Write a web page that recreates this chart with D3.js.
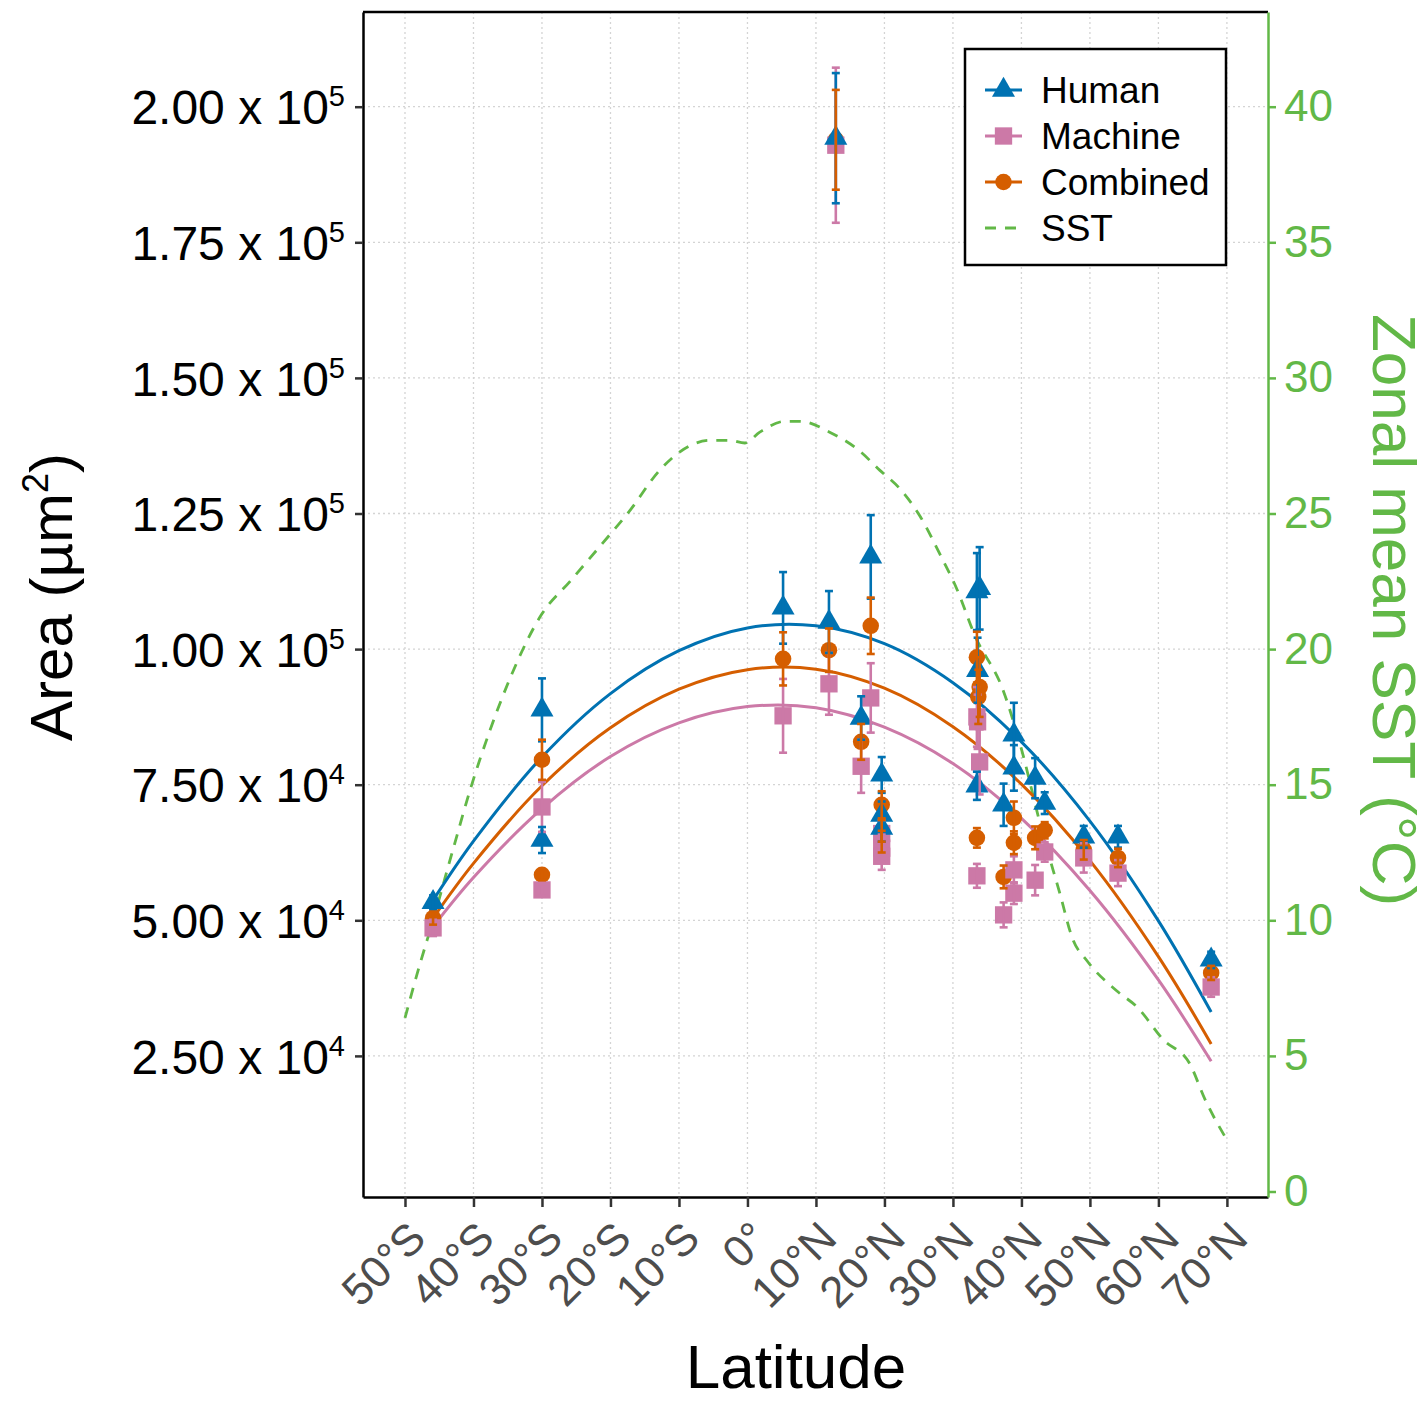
<!DOCTYPE html>
<html>
<head>
<meta charset="utf-8">
<script src="https://cdn.jsdelivr.net/npm/d3@7"></script>
<style>
body{margin:0;background:#fff;}
text{font-family:"Liberation Sans",Arial,Helvetica,sans-serif;}
</style>
</head>
<body>
<svg id="chart" width="1425" height="1401"></svg>
<script>
// rows are [latitude, mean area (x1000 um2), error (x1000 um2)]
var human = [
	[-45.9, 53.3, 1.3], [-30.0, 88.8, 5.8], [-30.0, 64.8, 2.4], [5.2, 107.6, 6.6],
	[11.9, 105.0, 5.7], [12.9, 194.2, 12.0], [16.6, 87.3, 4.0], [18.0, 117.0, 7.7],
	[19.6, 76.8, 3.3], [19.6, 69.4, 2.5], [19.6, 67.0, 2.5], [33.5, 110.6, 7.1],
	[33.9, 111.2, 7.6], [33.6, 96.1, 6.0], [33.5, 74.8, 2.6], [37.4, 71.3, 3.9],
	[38.9, 84.2, 5.9], [38.9, 78.1, 4.2], [42.0, 76.2, 3.7], [43.4, 71.6, 2.0],
	[49.1, 65.4, 2.0], [54.1, 65.4, 2.0], [67.7, 42.7, 1.5]
];
var machine = [
	[-45.9, 48.6, 1.5], [-30.0, 70.9, 4.6], [-30.0, 55.6, 1.0], [5.2, 87.7, 6.8],
	[11.9, 93.6, 5.7], [12.9, 192.9, 14.3], [16.6, 78.4, 4.9], [18.0, 91.0, 6.4],
	[19.6, 66.0, 2.5], [19.6, 63.3, 2.5], [19.6, 61.8, 2.5], [33.5, 87.5, 5.5],
	[33.9, 79.2, 6.0], [33.6, 86.6, 5.0], [33.5, 58.2, 2.2], [37.4, 51.0, 2.3],
	[38.9, 59.3, 2.5], [38.9, 55.0, 2.0], [42.0, 57.4, 2.8], [43.4, 62.6, 1.8],
	[49.1, 61.5, 2.7], [54.1, 58.7, 2.4], [67.7, 37.7, 1.8]
];
var combined = [
	[-45.9, 50.4, 1.2], [-30.0, 79.6, 3.7], [-30.0, 58.4, 1.0], [5.2, 98.2, 4.9],
	[11.9, 99.8, 4.0], [12.9, 193.9, 9.2], [16.6, 82.9, 3.3], [18.0, 104.3, 5.2],
	[19.6, 71.3, 2.5], [19.6, 66.5, 2.0], [19.6, 64.5, 2.0], [33.5, 98.5, 4.7],
	[33.9, 93.0, 5.5], [33.7, 91.2, 5.0], [33.5, 65.2, 1.8], [37.4, 58.0, 2.1],
	[38.9, 68.9, 3.0], [38.9, 64.3, 2.1], [42.0, 65.2, 2.1], [43.4, 66.6, 1.5],
	[49.1, 63.0, 1.8], [54.1, 61.5, 1.7], [67.7, 40.3, 1.3]
];

// fitted trend lines, read at these latitudes
var fitLat      = [-45.8, -40, -30, -20, -10, 0, 10, 20, 30, 40, 50, 60, 67.7];
var humanFit    = [53.9, 64.6, 80.1, 91.8, 99.7, 103.9, 104.3, 101.0, 93.8, 82.9, 68.3, 49.9, 33.1];
var combinedFit = [50.6, 60.5, 74.8, 85.5, 92.6, 96.2, 96.3, 92.8, 85.7, 75.1, 61.0, 43.3, 27.2];
var machineFit  = [49.0, 57.9, 70.6, 80.2, 86.4, 89.4, 89.2, 85.6, 78.9, 68.8, 55.5, 39.0, 24.0];

// zonal mean SST (deg C)
var sstLat = [-50, -47.8, -45.9, -43.0, -40.5, -37.6, -34.7, -30.0, -25.9, -21.5, -17.2, -12.8, -8.4,
	-5.5, -2.6, -0.4, 1.8, 5.5, 7.7, 12.0, 16.4, 19.3, 22.3, 25.2, 28.1, 30.6, 33.2, 37.3, 39.8,
	43.0, 45.6, 47.5, 49.6, 53.9, 56.9, 60.7, 64.6, 66.8, 70.0];
var sstVal = [6.4, 8.4, 10.0, 12.6, 14.8, 17.0, 18.9, 21.3, 22.5, 23.8, 25.1, 26.6, 27.5,
	27.7, 27.7, 27.6, 28.0, 28.4, 28.4, 28.0, 27.3, 26.6, 25.9, 24.9, 23.5, 22.2, 20.5, 18.5, 16.5,
	13.3, 11.0, 9.3, 8.5, 7.4, 6.8, 5.6, 4.7, 3.4, 1.9];

var latTicks = [-50, -40, -30, -20, -10, 0, 10, 20, 30, 40, 50, 60, 70];
var areaTicks = [25, 50, 75, 100, 125, 150, 175, 200];
var sstTicks = [0, 5, 10, 15, 20, 25, 30, 35, 40];
var seriesNames = ["Human", "Machine", "Combined", "SST"];

var cHuman = "#0072B2", cMachine = "#CC79A7", cCombined = "#D55E00", cSST = "#62B847";
var triSize = 230, sqSize = 300, cirSize = 215;

var pL = 363, pR = 1268, pT = 12, pB = 1197;
var svg = d3.select("#chart");

var x = d3.scaleLinear().domain([-56.13, 76.0]).range([pL, pR]);
var y = d3.scaleLinear().domain([-1.014, 217.46]).range([pB, pT]);
var ySST = d3.scaleLinear().domain([-1.014 / 5, 217.46 / 5]).range([pB, pT]);

// grid
var grid = svg.append("g");
grid.selectAll(".vg").data(latTicks).enter().append("line")
	.attr("x1", d => x(d)).attr("x2", d => x(d))
	.attr("y1", pT).attr("y2", pB)
	.attr("stroke", "#d4d4d4").attr("stroke-width", 1.3).attr("stroke-dasharray", "2,3");
grid.selectAll(".hg").data(areaTicks).enter().append("line")
	.attr("x1", pL).attr("x2", pR)
	.attr("y1", d => y(d)).attr("y2", d => y(d))
	.attr("stroke", "#d4d4d4").attr("stroke-width", 1.3).attr("stroke-dasharray", "2,3");

// SST
var sstLine = d3.line()
	.x((d, i) => x(sstLat[i]))
	.y(d => ySST(d))
	.curve(d3.curveMonotoneX);
svg.append("path").attr("d", sstLine(sstVal))
	.attr("fill", "none").attr("stroke", cSST)
	.attr("stroke-width", 2.8).attr("stroke-dasharray", "11,9");

// fitted curves
var fitLine = d3.line()
	.x((d, i) => x(fitLat[i]))
	.y(d => y(d))
	.curve(d3.curveCatmullRom);
[[humanFit, cHuman], [combinedFit, cCombined], [machineFit, cMachine]].forEach(function(f){
	svg.append("path").attr("d", fitLine(f[0]))
		.attr("fill", "none").attr("stroke", f[1]).attr("stroke-width", 3);
});

function drawPoints(data, color, symType, size){
	svg.append("g").selectAll("path").data(data).enter().append("path")
		.attr("d", d3.symbol().type(symType).size(size))
		.attr("transform", d => "translate(" + x(d[0]) + "," + y(d[1]) + ")")
		.attr("fill", color);
}
function drawErrors(data, color){
	var eb = svg.append("g").selectAll("g").data(data).enter().append("g")
		.attr("stroke", color).attr("stroke-width", 2.6);
	eb.append("line")
		.attr("x1", d => x(d[0])).attr("x2", d => x(d[0]))
		.attr("y1", d => y(d[1] - d[2])).attr("y2", d => y(d[1] + d[2]));
	eb.append("line")
		.attr("x1", d => x(d[0]) - 4).attr("x2", d => x(d[0]) + 4)
		.attr("y1", d => y(d[1] - d[2])).attr("y2", d => y(d[1] - d[2]));
	eb.append("line")
		.attr("x1", d => x(d[0]) - 4).attr("x2", d => x(d[0]) + 4)
		.attr("y1", d => y(d[1] + d[2])).attr("y2", d => y(d[1] + d[2]));
}
drawPoints(combined, cCombined, d3.symbolCircle, cirSize);
drawPoints(machine, cMachine, d3.symbolSquare, sqSize);
drawPoints(human, cHuman, d3.symbolTriangle, triSize);
drawErrors(machine, cMachine);
drawErrors(human, cHuman);
drawErrors(combined, cCombined);

// panel border
svg.append("line").attr("x1", pL).attr("x2", pR).attr("y1", pT).attr("y2", pT)
	.attr("stroke", "#000").attr("stroke-width", 2.5);

// bottom axis
var xAxis = svg.append("g").attr("transform", "translate(0," + pB + ")")
	.call(d3.axisBottom(x).tickValues(latTicks).tickSize(10).tickSizeOuter(0)
		.tickFormat(d => d === 0 ? "0°" : Math.abs(d) + "°" + (d < 0 ? "S" : "N")));
xAxis.select(".domain").attr("stroke", "#000").attr("stroke-width", 2.5);
xAxis.selectAll(".tick line").attr("stroke", "#333").attr("stroke-width", 2.5);
xAxis.selectAll(".tick text")
	.attr("font-size", 44).attr("fill", "#4D4D4D")
	.attr("text-anchor", "end")
	.attr("y", 0).attr("dy", null)
	.attr("transform", "translate(0,21) rotate(-45)")
	.attr("dominant-baseline", "hanging");

// left axis
var yAxis = svg.append("g").attr("transform", "translate(" + pL + ",0)")
	.call(d3.axisLeft(y).tickValues(areaTicks).tickSize(8).tickSizeOuter(0).tickFormat(""));
yAxis.select(".domain").attr("stroke", "#000").attr("stroke-width", 2.5);
yAxis.selectAll(".tick line").attr("stroke", "#333").attr("stroke-width", 2.5);
yAxis.selectAll(".tick").each(function(d){
	var exp = Math.floor(Math.log10(d * 1000));
	var mant = (d * 1000 / Math.pow(10, exp)).toFixed(2);
	var t = d3.select(this).append("text")
		.attr("x", -18).attr("y", 0).attr("dy", "0.36em")
		.attr("text-anchor", "end").attr("font-size", 48).attr("fill", "#000");
	t.append("tspan").text(mant + " x 10");
	t.append("tspan").attr("font-size", 29).attr("dy", -18).text(exp);
});

// right axis
var rAxis = svg.append("g").attr("transform", "translate(" + pR + ",0)")
	.call(d3.axisRight(ySST).tickValues(sstTicks).tickSize(8).tickSizeOuter(0));
rAxis.select(".domain").attr("stroke", cSST).attr("stroke-width", 2.5);
rAxis.selectAll(".tick line").attr("stroke", cSST).attr("stroke-width", 2.5);
rAxis.selectAll(".tick text").attr("font-size", 44).attr("fill", cSST).attr("x", 16);

// axis titles
svg.append("text").attr("x", 796).attr("y", 1388).attr("text-anchor", "middle")
	.attr("font-size", 62).attr("fill", "#000").text("Latitude");
var lt = svg.append("text").attr("transform", "translate(72,597) rotate(-90)")
	.attr("text-anchor", "middle").attr("font-size", 60).attr("fill", "#000");
lt.append("tspan").text("Area (µm");
lt.append("tspan").attr("font-size", 36).attr("dy", -24).text("2");
lt.append("tspan").attr("dy", 24).text(")");
svg.append("text").attr("transform", "translate(1373,610) rotate(90)")
	.attr("text-anchor", "middle").attr("font-size", 62).attr("fill", cSST)
	.text("Zonal mean SST (°C)");

// legend
var lg = svg.append("g").attr("transform", "translate(965,49)");
lg.append("rect").attr("width", 261).attr("height", 216)
	.attr("fill", "#fff").attr("stroke", "#000").attr("stroke-width", 2.5);
var keys = [
	{c: cHuman, s: d3.symbolTriangle, z: triSize},
	{c: cMachine, s: d3.symbolSquare, z: sqSize},
	{c: cCombined, s: d3.symbolCircle, z: cirSize},
	{c: cSST, s: null}
];
seriesNames.forEach(function(name, i){
	var row = lg.append("g").attr("transform", "translate(0," + (41 + i * 46) + ")");
	var k = keys[i];
	row.append("line").attr("x1", 20).attr("x2", 57).attr("y1", 0).attr("y2", 0)
		.attr("stroke", k.c).attr("stroke-width", 3)
		.attr("stroke-dasharray", k.s ? null : "11,9");
	if(k.s){
		row.append("path").attr("d", d3.symbol().type(k.s).size(k.z))
			.attr("transform", "translate(38.5,0)").attr("fill", k.c);
	}
	row.append("text").attr("x", 76).attr("y", 0).attr("dy", "0.35em")
		.attr("font-size", 37).attr("fill", "#000").text(name);
});
</script>
</body>
</html>
